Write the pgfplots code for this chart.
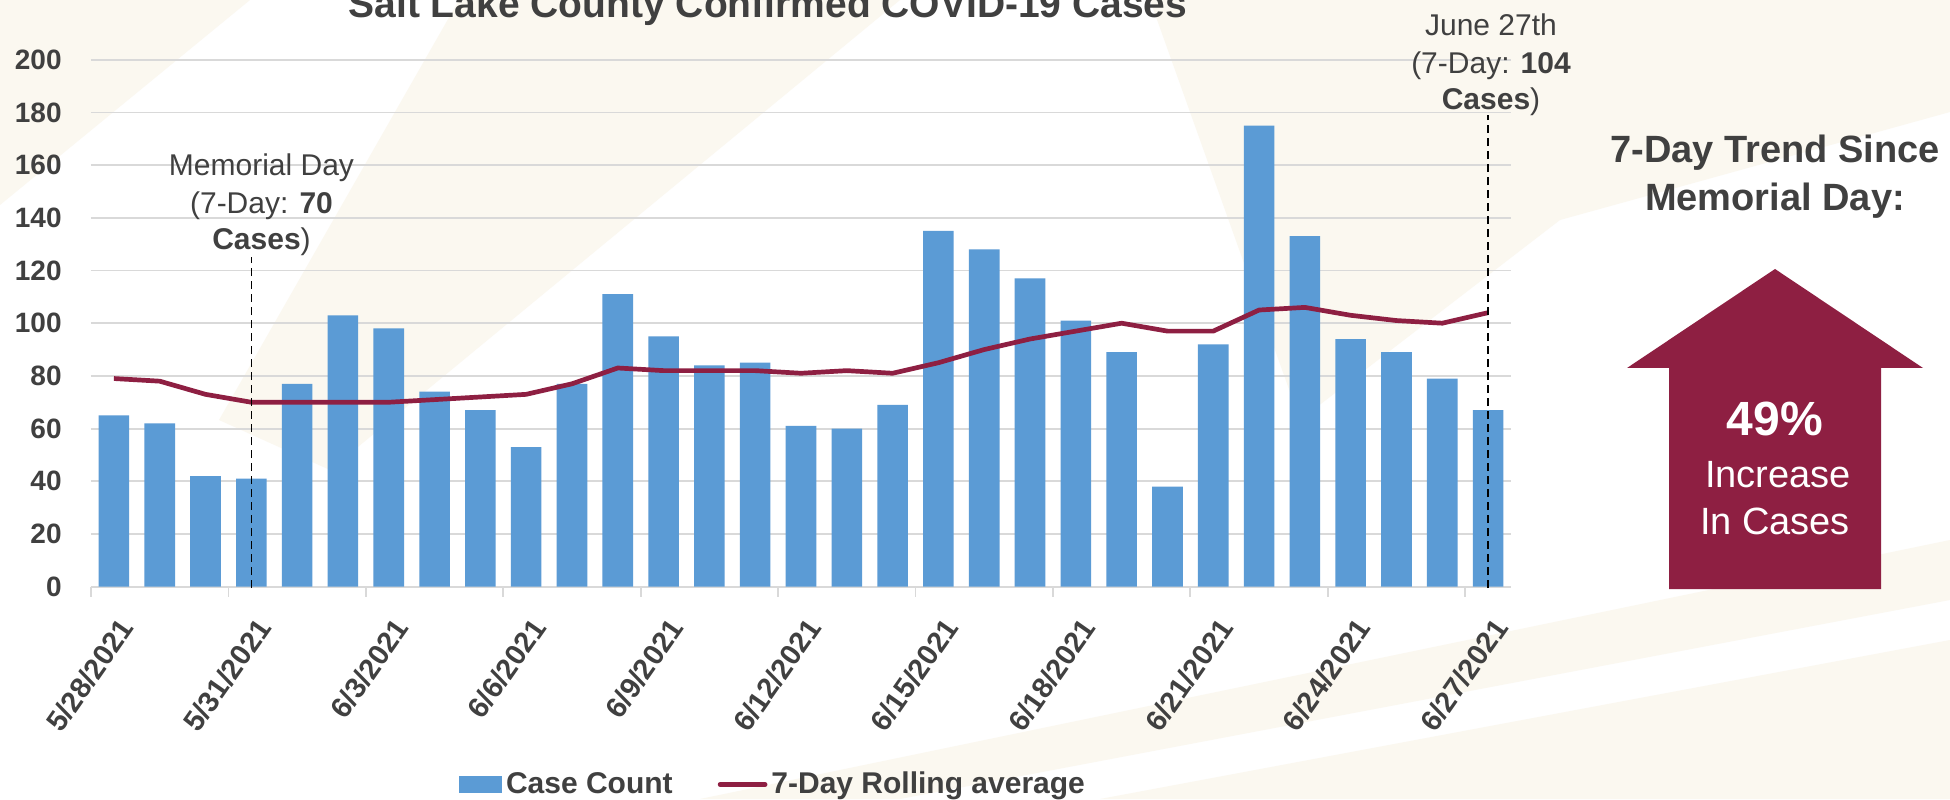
\documentclass[border=0pt]{standalone}
\usepackage{fontspec}
\setmainfont{Liberation Sans}
\usepackage{pgfplots}
\pgfplotsset{compat=1.18}
\definecolor{barblue}{HTML}{5B9BD5}
\definecolor{maroon}{HTML}{8E1F42}
\definecolor{txt}{HTML}{404040}
\definecolor{gridc}{HTML}{D9D9D9}
\definecolor{cream}{HTML}{FBF8F0}
\begin{document}
\begin{tikzpicture}
\fill[white] (0,0) rectangle (975pt,399.5pt);
\begin{scope}[x=0.5pt,y=-0.5pt,yshift=399.5pt]
  \fill[cream] (0,0)--(250,0)--(0,205)--cycle;
  \fill[cream] (459,0)--(900,0)--(330,470)--(219,420)--cycle;
  \fill[cream] (1150,0)--(1950,0)--(1950,112)--(1560,220)--(1300,420)--cycle;
  \fill[cream] (700,799)--(1950,540)--(1950,600)--(900,799)--cycle;
  \fill[cream] (1100,799)--(1950,640)--(1950,799)--cycle;
\end{scope}
\begin{axis}[
  at={(45.5pt,106.15pt)}, anchor=south west,
  scale only axis, width=710pt, height=263.5pt,
  xmin=-0.5, xmax=30.5, ymin=0, ymax=200,
  axis line style={draw=none},
  ytick={0,20,...,200},
  ymajorgrids, grid style={gridc, line width=0.9pt},
  xtick={0,3,...,30},
  xticklabels={5/28/2021,5/31/2021,6/3/2021,6/6/2021,6/9/2021,6/12/2021,6/15/2021,6/18/2021,6/21/2021,6/24/2021,6/27/2021},
  major tick length=0pt,
  tick style={gridc, line width=0.9pt},
  extra x ticks={-0.5,2.5,...,29.5},
  extra x tick labels={},
  extra x tick style={major tick length=5pt, tick align=outside},
  xtick pos=bottom, ytick pos=left,
  /pgf/number format/assume math mode=true,
  yticklabel style={font=\fontsize{14}{14}\selectfont\bfseries, text=txt, inner sep=0pt, xshift=-14.5pt},
  xticklabel style={font=\fontsize{14.5}{14.5}\selectfont\bfseries, text=txt, inner sep=0pt, xshift=2pt, yshift=-14.5pt, rotate=55, anchor=north east},
  legend style={at={(axis description cs:0.2592,-0.3753)}, anchor=west, draw=none, fill=none,
    inner sep=0pt, outer sep=0pt, font=\fontsize{15}{15}\selectfont\bfseries, text=txt,
    nodes={inner sep=0pt},
    /tikz/every odd column/.append style={column sep=2pt},
    /tikz/every even column/.append style={column sep=22.5pt}},
  legend columns=2,
  clip=false,
]
\addplot[ybar, bar width=15.3pt, fill=barblue, draw=none,
  legend image code/.code={\fill[barblue] (0pt,-4.25pt) rectangle (21.5pt,4.25pt);}]
coordinates {
(0,65) (1,62) (2,42) (3,41) (4,77) (5,103) (6,98) (7,74) (8,67) (9,53)
(10,77) (11,111) (12,95) (13,84) (14,85) (15,61) (16,60) (17,69) (18,135) (19,128)
(20,117) (21,101) (22,89) (23,38) (24,92) (25,175) (26,133) (27,94) (28,89) (29,79) (30,67)
};
\addlegendentry{Case Count}
\addplot[sharp plot, maroon, line width=2.35pt, line join=round, mark=none,
  legend image code/.code={\draw[maroon, line width=2.35pt, line cap=round] (0pt,0pt) -- (22.5pt,0pt);}]
coordinates {
(0,79) (1,78) (2,73) (3,70) (4,70) (5,70) (6,70) (7,71) (8,72) (9,73)
(10,77) (11,83) (12,82) (13,82) (14,82) (15,81) (16,82) (17,81) (18,85) (19,90)
(20,94) (21,97) (22,100) (23,97) (24,97) (25,105) (26,106) (27,103) (28,101) (29,100) (30,104)
};
\addlegendentry{7-Day Rolling average}
\draw[black, line width=0.75pt, dash pattern=on 4pt off 2.5pt] (axis cs:3,-0.5) -- (axis cs:3,125);
\draw[black, line width=0.75pt, dash pattern=on 4pt off 2.5pt] (axis cs:30,-0.5) -- (axis cs:30,179);
\end{axis}
\begin{scope}[x=0.5pt,y=-0.5pt,yshift=399.5pt]
  \node[anchor=base, text=txt, font=\fontsize{19.5}{19.5}\selectfont\bfseries, inner sep=0pt] at (768,17.5) {Salt Lake County Confirmed COVID-19 Cases};
  \begin{scope}[every node/.style={anchor=base, text=txt, font=\fontsize{15}{15}\selectfont, inner sep=0pt}]
    \node at (261.5,176) {Memorial Day};
    \node at (261.5,214) {(7-Day: \textbf{70}};
    \node at (261.5,250) {\textbf{Cases})};
    \node at (1491,36) {June 27th};
    \node at (1491,74) {(7-Day: \textbf{104}};
    \node at (1491,110) {\textbf{Cases})};
  \end{scope}
  \node[anchor=base, text=txt, font=\fontsize{19}{19}\selectfont\bfseries, inner sep=0pt] at (1775,163) {7-Day Trend Since};
  \node[anchor=base, text=txt, font=\fontsize{19}{19}\selectfont\bfseries, inner sep=0pt] at (1775,211) {Memorial Day:};
  \fill[maroon] (1775,269)--(1923,368)--(1881,368)--(1881,589)--(1669,589)--(1669,368)--(1627,368)--cycle;
  \node[anchor=base, text=white, font=\fontsize{24}{24}\selectfont\bfseries, inner sep=0pt] at (1775,436) {49\%};
  \node[anchor=base, text=white, font=\fontsize{19}{19}\selectfont, inner sep=0pt] at (1778,487) {Increase};
  \node[anchor=base, text=white, font=\fontsize{19}{19}\selectfont, inner sep=0pt] at (1775,535) {In Cases};
\end{scope}
\pgfresetboundingbox
\path[use as bounding box] (0,0) rectangle (975pt,399.5pt);
\end{tikzpicture}
\end{document}
